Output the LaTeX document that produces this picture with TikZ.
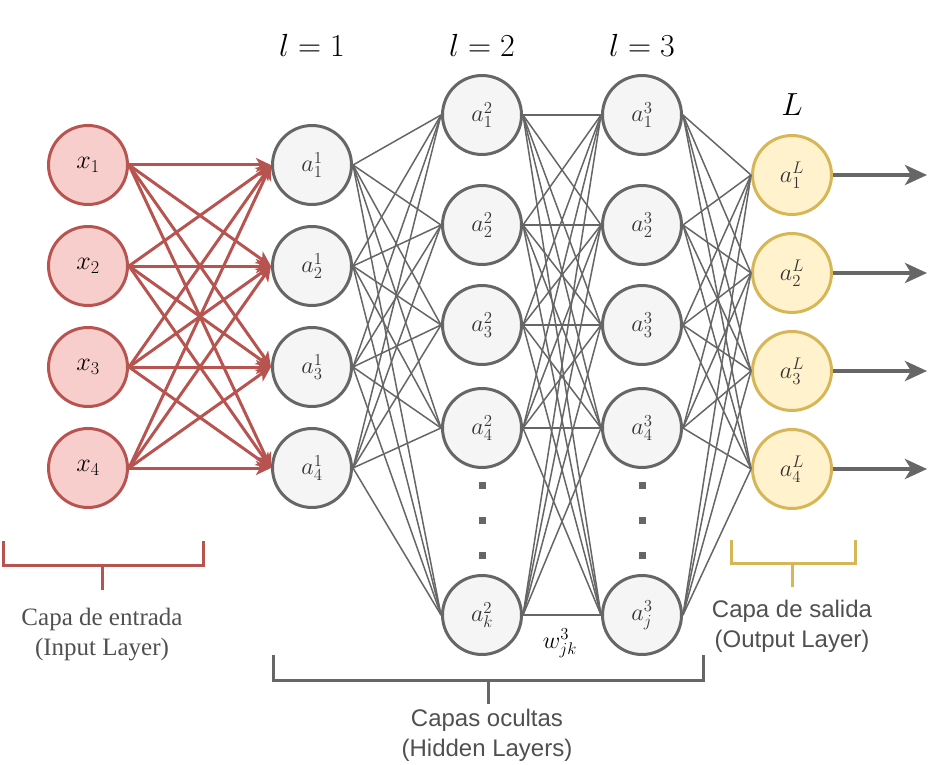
\RequirePackage{fix-cm}
\documentclass[tikz,border=0pt]{standalone}
\usepackage[no-math]{fontspec}
\usepackage{xcolor}
\usetikzlibrary{positioning, arrows, arrows.meta}
\newfontfamily\capserif{Liberation Serif}
\newfontfamily\capsans{Liberation Sans}
\definecolor{redline}{HTML}{B85450}
\definecolor{redfill}{HTML}{F8CECC}
\definecolor{grayline}{HTML}{666666}
\definecolor{grayfill}{HTML}{F5F5F5}
\definecolor{yelline}{HTML}{D6B656}
\definecolor{yelfill}{HTML}{FFF2CC}
\definecolor{labeltext}{HTML}{333333}
\definecolor{captext}{HTML}{505050}

\begin{document}
\begin{tikzpicture}[-, x=1pt, y=-1pt, node distance = 101pt,
	neuron/.style={circle, minimum size=79pt, inner sep=0pt, line width=3pt},
	inp/.style={neuron, draw=redline, fill=redfill, font=\fontsize{26}{30}\selectfont},
	hid/.style={neuron, draw=grayline, fill=grayfill, text=labeltext, font=\fontsize{24}{28}\selectfont},
	outp/.style={neuron, draw=yelline, fill=yelfill, text=labeltext, font=\fontsize{24}{28}\selectfont},
	layer/.style={font=\fontsize{32}{38}\selectfont},
	vdot/.style={rectangle, fill=grayline, minimum size=7pt, inner sep=0pt},
	redarrow/.style={draw=redline, line width=3pt, -{Stealth[length=15pt, width=14pt, inset=4pt]}},
	wire/.style={draw=grayline, line width=1.5pt},
	outarrow/.style={draw=grayline, line width=4pt, -{Stealth[length=22pt, width=20pt, inset=6pt]}},
	bracket/.style={line width=3pt},
	caption/.style={text=captext, align=center, font=\capsans\fontsize{24}{30}\selectfont}]

	\useasboundingbox (0,0) rectangle (938,765);

	% input layer
	\node[inp] (x1) at (88,165) {$x_1$};
	\node[inp, below of = x1] (x2) {$x_2$};
	\node[inp, below of = x2] (x3) {$x_3$};
	\node[inp, below of = x3] (x4) {$x_4$};

	% hidden layers
	\node[hid, right of = x1, node distance = 224pt] (a11) {$a^1_1$};
	\node[hid, below of = a11] (a12) {$a^1_2$};
	\node[hid, below of = a12] (a13) {$a^1_3$};
	\node[hid, below of = a13] (a14) {$a^1_4$};

	\node[hid] (a21) at (482,115) {$a^2_1$};
	\node[hid, below of = a21, node distance = 110pt] (a22) {$a^2_2$};
	\node[hid, below of = a22, node distance = 100pt] (a23) {$a^2_3$};
	\node[hid, below of = a23, node distance = 103pt] (a24) {$a^2_4$};
	\node[hid, below of = a24, node distance = 187pt] (a2k) {$a^2_k$};

	\foreach \i/\s in {1/1, 2/2, 3/3, 4/4, k/j}
		\node[hid, right of = a2\i, node distance = 160pt] (a3\s) {$a^3_\s$};

	\foreach \c in {2, 3} {
		\node[vdot, below of = a\c4, node distance = 57pt] (d\c1) {};
		\node[vdot, below of = d\c1, node distance = 35pt] (d\c2) {};
		\node[vdot, below of = d\c2, node distance = 35pt] (d\c3) {};
	}

	% output layer
	\node[outp] (aL1) at (792,175) {$a^L_1$};
	\node[outp, below of = aL1, node distance = 98pt] (aL2) {$a^L_2$};
	\node[outp, below of = aL2, node distance = 98pt] (aL3) {$a^L_3$};
	\node[outp, below of = aL3, node distance = 98pt] (aL4) {$a^L_4$};

	% layer labels
	\node[layer, above of = a11, node distance = 120pt] (l1) {$l=1$};
	\node[layer, above of = a21, node distance = 70pt] (l2) {$l=2$};
	\node[layer, above of = a31, node distance = 70pt] (l3) {$l=3$};
	\node[layer, above of = aL1, node distance = 70pt] (lL) {$L$};
	\node[font=\fontsize{24}{28}\selectfont] (w) at (560,643) {$w^3_{jk}$};

	% connections
	\foreach \m in {1,...,4}
		\foreach \n in {1,...,4}
			\draw (x\m.east) edge[redarrow] (a1\n.west);
	\foreach \m in {1,...,4}
		\foreach \n in {1,2,3,4,k}
			\draw (a1\m.east) edge[wire] (a2\n.west);
	\foreach \m in {1,2,3,4,k}
		\foreach \n in {1,2,3,4,j}
			\draw (a2\m.east) edge[wire] (a3\n.west);
	\foreach \m in {1,2,3,4,j}
		\foreach \n in {1,...,4}
			\draw (a3\m.east) edge[wire] (aL\n.west);
	\foreach \m in {1,...,4} {
		\coordinate[right of = aL\m, node distance = 135pt] (y\m);
		\draw (aL\m.east) edge[outarrow] (y\m);
	}

	% brackets
	\draw[bracket, redline] (3,541) -- (3,565) -- (203,565) -- (203,541);
	\draw[bracket, redline] (102,565) -- (102,590);
	\draw[bracket, grayline] (273,655) -- (273,680) -- (703,680) -- (703,655);
	\draw[bracket, grayline] (488,680) -- (488,704);
	\draw[bracket, yelline] (731,540) -- (731,563) -- (855,563) -- (855,540);
	\draw[bracket, yelline] (792,563) -- (792,587);

	\node[caption, font=\capserif\fontsize{25}{30}\selectfont] (cin) at (102,635) {Capa de entrada\\(Input Layer)};
	\node[caption] (chid) at (487,735) {Capas ocultas\\(Hidden Layers)};
	\node[caption] (cout) at (792,626) {Capa de salida\\(Output Layer)};
\end{tikzpicture}
\end{document}
